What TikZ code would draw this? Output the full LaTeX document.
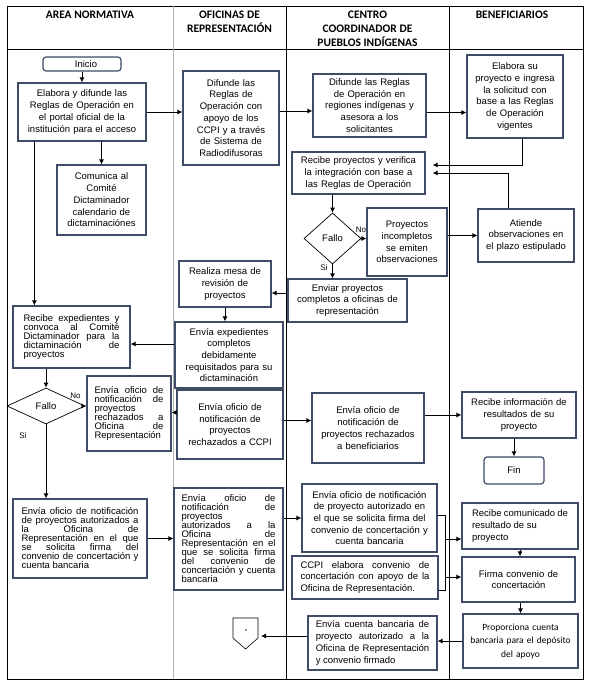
\documentclass[tikz,border=0pt]{standalone}
\usepackage{fontspec}
\setmainfont{Liberation Sans}
\newfontfamily\calibri{Carlito}
\usetikzlibrary{shapes.geometric}
\usetikzlibrary{calc,arrows.meta}
\hyphenpenalty=10000
\exhyphenpenalty=10000
\tolerance=10000
\newcommand{\letra}{\fontsize{9.5}{11.7}\selectfont}
\newcommand{\letrajunta}{\fontsize{9.5}{9}\selectfont\lineskiplimit=-5pt}
\newcommand{\letracab}{\calibri\bfseries\fontsize{11.5}{14}\selectfont}

\begin{document}
\begin{tikzpicture}[x=1pt, y=-1pt, >={Latex[length=5pt,width=5pt]}]

    % Colours of boxes and lane dividers
    \definecolor{borde}{RGB}{62,76,104}
    \colorlet{divisor}{gray!60}

    % Styles for boxes, decisions and connectors
    \tikzset{caja/.style={draw=borde, line width=1.2pt, inner sep=0pt, align=center, font=\letra}}
    \tikzset{justo/.style={caja, align=justify}}
    \tikzset{junto/.style={justo, font=\letrajunta}}
    \tikzset{terminal/.style={caja, rounded corners=3pt}}
    \tikzset{decision/.style={draw, diamond, inner sep=0pt, line width=0.7pt, font=\letra}}
    \tikzset{flecha/.style={->, line width=0.8pt}}
    \tikzset{etiqueta/.style={inner sep=0pt, font=\fontsize{8}{9}\selectfont}}
    \tikzset{cabecera/.style={anchor=north, align=center, inner sep=0pt, font=\letracab}}

    \useasboundingbox (0,0) rectangle (590,685);

    % Lanes
    \draw[line width=0.7pt] (7,6) rectangle (583,679);
    \draw[line width=0.7pt] (7,49) -- (583,49);
    \draw[divisor, line width=0.9pt] (173,6) -- (173,679);
    \draw[line width=0.7pt] (286,6) -- (286,679);
    \draw[line width=0.7pt] (449,6) -- (449,679);

    \node[cabecera] (cab1) at (90,10.5) {AREA NORMATIVA};
    \node[cabecera] (cab2) at (229.5,10.5) {OFICINAS DE\\REPRESENTACIÓN};
    \node[cabecera] (cab3) at (367.5,10.5) {CENTRO\\COORDINADOR DE\\PUEBLOS INDÍGENAS};
    \node[cabecera] (cab4) at (512,10.5) {BENEFICIARIOS};

    % Area normativa
    \node[terminal, minimum width=78pt, minimum height=14pt] (inicio) at (82,64) {\hspace*{8pt}Inicio};
    \node[caja, minimum width=128pt, minimum height=58pt, text width=122pt] (elabora) at (82,112)
      {Elabora y difunde las\\Reglas de Operación en\\el portal oficial de la\\institución para el acceso};
    \node[caja, minimum width=89pt, minimum height=70pt, text width=83pt] (comunica) at (101.5,200)
      {Comunica al\\Comité\\Dictaminador\\calendario de\\dictaminaciónes};
    \node[junto, minimum width=117pt, minimum height=62pt, text width=96pt] (recibeexp) at (71.5,337)
      {Recibe expedientes y\linebreak convoca al Comité\linebreak Dictaminador para la\linebreak dictaminación de\linebreak proyectos};
    \node[decision, minimum width=78pt, minimum height=36pt] (fallo1) at (46,406) {Fallo};
    \node[junto, minimum width=84pt, minimum height=75pt, text width=69pt] (rechazaOR) at (129,413.5)
      {Envía oficio de\linebreak notificación de\linebreak proyectos\linebreak rechazados a\linebreak Oficina de\linebreak Representación};
    \node[junto, minimum width=134pt, minimum height=79pt, text width=117pt] (autorizaOR) at (80,538.5)
      {Envía oficio de notificación\linebreak de proyectos autorizados a\linebreak la Oficina de\linebreak Representación en el que\linebreak se solicita firma del\linebreak convenio de concertación y\linebreak cuenta bancaria};

    % Oficinas de representacion
    \node[caja, minimum width=96pt, minimum height=94pt, text width=90pt] (difunde2) at (231,118)
      {Difunde las\\Reglas de\\Operación con\\apoyo de los\\CCPI y a través\\de Sistema de\\Radiodifusoras};
    \node[caja, minimum width=92pt, minimum height=46pt, text width=86pt] (realiza) at (225,284)
      {Realiza mesa de\\revisión de\\proyectos};
    \node[caja, minimum width=108pt, minimum height=66pt, text width=102pt] (enviaexp) at (229,355)
      {Envía expedientes\\completos\\debidamente\\requisitados para su\\dictaminación};
    \node[caja, minimum width=106pt, minimum height=69pt, text width=100pt] (rechazaCCPI) at (230,424.5)
      {Envía oficio de\\notificación de\\proyectos\\rechazados a CCPI};
    \node[junto, minimum width=109pt, minimum height=102pt, text width=94pt] (autorizaCCPI) at (228.5,539)
      {Envía oficio de\linebreak notificación de\linebreak proyectos\linebreak autorizados a la\linebreak Oficina de\linebreak Representación en el\linebreak que se solicita firma\linebreak del convenio de\linebreak concertación y cuenta\linebreak bancaria};

    % Off-page connector
    \node[inner sep=0pt, font=\fontsize{6}{7}\selectfont] (conector) at (246,631) {*};
    \draw[line width=0.6pt] ($(conector)+(-13,-13)$) -- ++(25,0) -- ++(0,20) -- ++(-12.5,11)
      -- ++(-12.5,-11) -- cycle;
    \coordinate (conector-e) at ($(conector)+(15,5)$);

    % Centro coordinador de pueblos indigenas
    \node[caja, minimum width=113pt, minimum height=63pt, text width=107pt] (difunde3) at (369.5,105.5)
      {Difunde las Reglas\\de Operación en\\regiones indígenas y\\asesora a los\\solicitantes};
    \node[caja, minimum width=133pt, minimum height=42pt, text width=127pt] (recibeproy) at (358.5,173)
      {Recibe proyectos y verifica\\la integración con base a\\las Reglas de Operación};
    \node[decision, minimum width=57pt, minimum height=51pt] (fallo2) at (332.5,238.5) {Fallo};
    \node[caja, minimum width=80pt, minimum height=68pt, text width=76pt] (incompletos) at (407,242)
      {Proyectos\\incompletos\\se emiten\\observaciones};
    \node[caja, minimum width=119pt, minimum height=43pt, text width=113pt] (enviarcomp) at (347.5,300.5)
      {Enviar proyectos\\completos a oficinas de\\representación};
    \node[caja, minimum width=112pt, minimum height=70pt, text width=106pt] (rechazaBen) at (368,428)
      {Envía oficio de\\notificación de\\proyectos rechazados\\a beneficiarios};
    \node[caja, minimum width=135pt, minimum height=68pt, text width=131pt] (autorizaBen) at (369.5,518)
      {Envía oficio de notificación\\de proyecto autorizado en\\el que se solicita firma del\\convenio de concertación y\\cuenta bancaria};
    \node[justo, minimum width=146pt, minimum height=43pt, text width=129pt] (ccpielabora) at (365,577.5)
      {CCPI elabora convenio de\linebreak concertación con apoyo de la\linebreak Oficina de Representación.};
    \node[justo, minimum width=129pt, minimum height=54pt, text width=113.5pt] (enviacuenta) at (372.5,643)
      {Envía cuenta bancaria de\linebreak proyecto autorizado a la\linebreak Oficina de Representación\linebreak y convenio firmado};

    % Beneficiarios
    \node[caja, minimum width=96pt, minimum height=83pt, text width=90pt] (elaborasu) at (515,96.5)
      {Elabora su\\proyecto e ingresa\\la solicitud con\\base a las Reglas\\de Operación\\vigentes};
    \node[caja, minimum width=96pt, minimum height=53pt, text width=92pt] (atiende) at (526,235.5)
      {Atiende\\observaciones en\\el plazo estipulado};
    \node[caja, minimum width=114pt, minimum height=46pt, text width=108pt] (recibeinfo) at (519,415)
      {Recibe información de\\resultados de su\\proyecto};
    \node[terminal, minimum width=60pt, minimum height=27pt] (fin) at (514,470.5) {Fin};
    \node[justo, minimum width=116pt, minimum height=46pt, text width=96pt] (recibecom) at (520,526)
      {Recibe comunicado de\\resultado de su\\proyecto};
    \node[caja, minimum width=113pt, minimum height=45pt, text width=107pt] (firma) at (518.5,579.5)
      {Firma convenio de\\concertación};
    \node[caja, minimum width=115pt, minimum height=54pt, text width=111pt, font=\calibri\fontsize{9.5}{13.5}\selectfont] (proporciona) at (520.5,641)
      {Proporciona cuenta\\bancaria para el depósito\\del apoyo};

    % Decision labels
    \node[etiqueta] (no1) at (75.5,395.5) {No};
    \node[etiqueta] (si1) at (23,436) {Si};
    \node[etiqueta] (no2) at (361,230) {No};
    \node[etiqueta] (si2) at (324,268) {Si};

    % Connectors of the first lane
    \coordinate (bajada) at ($(recibeexp.north west)+(22,0)$);
    \draw[flecha] (inicio) -- (elabora);
    \draw[flecha] (comunica.north |- elabora.south) -- (comunica.north);
    \draw[flecha] (bajada |- elabora.south) -- (bajada);
    \draw[flecha] (elabora.east) -- (elabora.east -| difunde2.west);
    \draw[flecha] (fallo1.north |- recibeexp.south) -- (fallo1.north);
    \draw[flecha] (fallo1.east) -- (fallo1.east -| rechazaOR.west);
    \draw[flecha] (fallo1.south) -- (fallo1.south |- autorizaOR.north);
    \draw[flecha] (autorizaOR.east) -- (autorizaOR.east -| autorizaCCPI.west);

    % Connectors of the second lane
    \draw[flecha] ([yshift=7pt]difunde2.east) -- ([yshift=7pt]difunde2.east -| difunde3.west);
    \draw[flecha] (realiza.south) -- (realiza.south |- enviaexp.north);
    \draw[flecha] ([yshift=11pt]enviaexp.west) -- ([yshift=11pt]enviaexp.west -| recibeexp.east);
    \draw[flecha] ([yshift=12pt]rechazaCCPI.west) -- ([yshift=12pt]rechazaCCPI.west -| rechazaOR.east);
    \draw[flecha] ([yshift=4pt]rechazaCCPI.east) -- ([yshift=4pt]rechazaCCPI.east -| rechazaBen.west);
    \draw[flecha] (autorizaBen.west -| autorizaCCPI.east) -- (autorizaBen.west);

    % Connectors of the third lane
    \draw[flecha] ([yshift=-7pt]difunde3.east) -- ([yshift=-7pt]difunde3.east -| elaborasu.west);
    \draw[flecha] (fallo2.north |- recibeproy.south) -- (fallo2.north);
    \draw[flecha] (fallo2.east) -- (fallo2.east -| incompletos.west);
    \draw[flecha] (fallo2.south) -- (fallo2.south |- enviarcomp.north);
    \draw[flecha] (atiende.west -| incompletos.east) -- (atiende.west);
    \draw[flecha] ([yshift=7.5pt]enviarcomp.west) -- ([yshift=7.5pt]enviarcomp.west -| realiza.east);
    \draw[flecha] (recibeinfo.west -| rechazaBen.east) -- (recibeinfo.west);
    \draw[flecha] ([yshift=7pt]enviacuenta.west) -- (conector-e);

    % Bus joining the authorised notice and the agreement
    \coordinate (bus) at ($(autorizaBen.east)+(8,0)$);
    \draw[line width=0.6pt] ([yshift=3pt]autorizaBen.east) -- ([yshift=3pt]autorizaBen.east -| bus)
      -- ([yshift=-12.5pt]ccpielabora.east -| bus) -- ([yshift=-12.5pt]ccpielabora.east);
    \draw[flecha] ([yshift=-13pt]recibecom.west -| bus) -- ([yshift=-13pt]recibecom.west);
    \draw[flecha] ([yshift=2.5pt]firma.west -| bus) -- ([yshift=2.5pt]firma.west);

    % Connectors of the fourth lane
    \draw[flecha, shorten >=7pt] ([xshift=7pt]elaborasu.south) |- ([yshift=8pt]recibeproy.east);
    \draw[flecha, shorten >=7pt] ([xshift=-18pt]atiende.north) |- (recibeproy.east);
    \draw[flecha] (fin.north |- recibeinfo.south) -- (fin.north);
    \draw[flecha] (recibecom.south) -- (recibecom.south |- firma.north);
    \draw[flecha] (proporciona.north |- firma.south) -- (proporciona.north);
    \draw[flecha] (proporciona.west) -- (proporciona.west -| enviacuenta.east);

\end{tikzpicture}
\end{document}
